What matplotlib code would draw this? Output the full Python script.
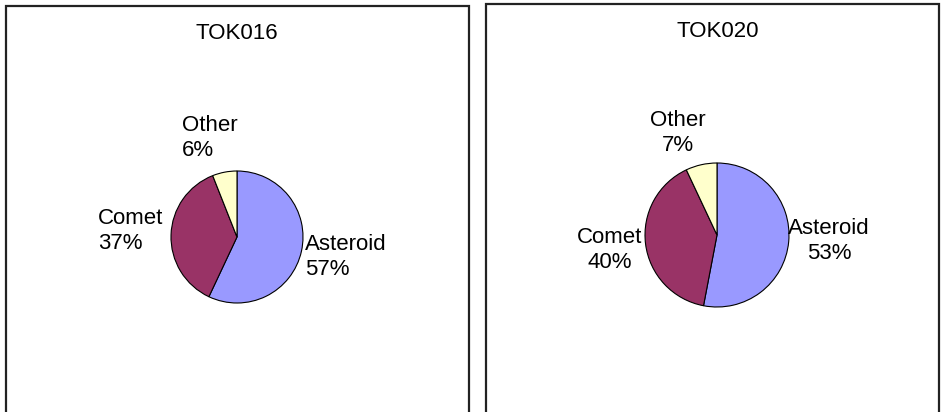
import matplotlib.pyplot as plt
from matplotlib.patches import Rectangle

categories = ['Asteroid', 'Comet', 'Other']
colors = ['#9999FF', '#993366', '#FFFFCC']

titles = ['TOK016', 'TOK020']
values_016 = [57, 37, 6]
values_020 = [53, 40, 7]

W, H = 945, 412
fig = plt.figure(figsize=(W / 100, H / 100), dpi=100)
ax = fig.add_axes([0, 0, 1, 1])

plt.rcParams['font.family'] = ['Liberation Sans', 'DejaVu Sans']
fs = 16
ls = 1.3

# panel frames (pixel coords, y from top)
for x0, x1, y0 in [(6, 469, 6), (486, 939, 4)]:
    ax.add_patch(Rectangle((x0, -5), x1 - x0, H - y0 + 5, fill=False,
                           edgecolor='#222222', lw=1.6))

# left pie
cx, cy, r = 237, 237, 66
ax.pie(values_016, colors=colors, startangle=90, counterclock=False,
       center=(cx, H - cy), radius=r, frame=True,
       wedgeprops=dict(edgecolor='black', linewidth=0.8))
ax.text(237, H - 33, titles[0], ha='center', va='center', fontsize=fs)
ax.text(182, H - 138, 'Other\n%d%%' % values_016[2], ha='left', va='center',
        fontsize=fs, linespacing=ls)
ax.text(98, H - 231, 'Comet\n%d%%' % values_016[1], ha='left', va='center',
        fontsize=fs, linespacing=ls)
ax.text(305, H - 257, 'Asteroid\n%d%%' % values_016[0], ha='left', va='center',
        fontsize=fs, linespacing=ls)

# right pie
cx, cy, r = 717, 235, 72
ax.pie(values_020, colors=colors, startangle=90, counterclock=False,
       center=(cx, H - cy), radius=r, frame=True,
       wedgeprops=dict(edgecolor='black', linewidth=0.8))
ax.text(718, H - 31, titles[1], ha='center', va='center', fontsize=fs)
ax.text(678, H - 133, 'Other\n%d%%' % values_020[2], ha='center', va='center',
        fontsize=fs, linespacing=ls)
ax.text(610, H - 250, 'Comet\n%d%%' % values_020[1], ha='center', va='center',
        fontsize=fs, linespacing=ls)
ax.text(829, H - 241, 'Asteroid\n%d%%' % values_020[0], ha='center', va='center',
        fontsize=fs, linespacing=ls)

ax.set_xlim(0, W)
ax.set_ylim(0, H)
ax.set_aspect('auto')
ax.axis('off')

fig.savefig('out.png', dpi=100, facecolor='white')
